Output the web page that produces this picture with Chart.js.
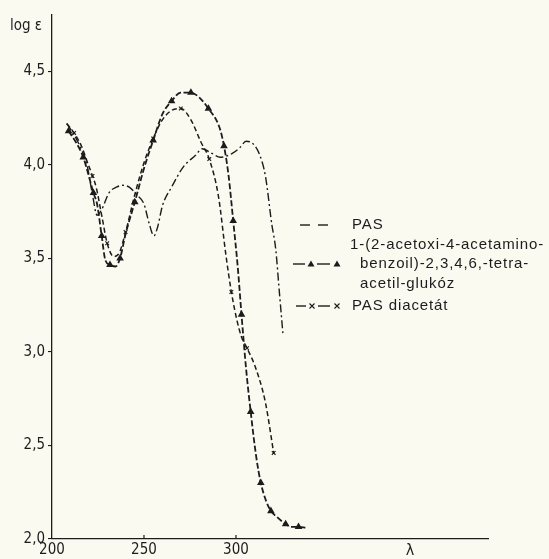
<!DOCTYPE html>
<html><head><meta charset="utf-8">
<script src="https://cdn.jsdelivr.net/npm/chart.js@4"></script>
<style>html,body{margin:0;padding:0;background:#fbfaf1;}</style>
</head><body>
<canvas id="c" width="549" height="559"></canvas>
<script>
// ---- data ----
const yTickValues = [2.0, 2.5, 3.0, 3.5, 4.0, 4.5];
const yTickLabels = ['2,0', '2,5', '3,0', '3,5', '4,0', '4,5'];
const xTickValues = [200, 250, 300];
const xTickLabels = ['200', '250', '300'];
const yTitle = 'log ε';
const xTitle = 'λ';

// PAS (dashed)
const pasWl  = [208,212,216,219,222,224.5,227,231,235,238.5,242,246,250,252.7,255.4,257.5,260,265,271.5,278,281.5,287,291.5,298,302,305.5,309.5,313,316,319.5,321.6,323.5,325.5];
const pasLog = [4.22,4.16,4.08,4.00,3.84,3.73,3.76,3.85,3.88,3.89,3.88,3.84,3.79,3.69,3.62,3.67,3.78,3.88,3.99,4.05,4.085,4.06,4.04,4.06,4.09,4.125,4.11,4.05,3.94,3.68,3.55,3.33,3.10];

// 1-(2-acetoxi-4-acetamino-benzoil)-2,3,4,6,-tetra-acetil-glukóz (triangles)
const gluWl  = [209,213,217,220,222.5,224.5,227,229,231.5,234.5,237,240,245,250,255,260,265,270,275.5,280,285,291,293.5,296,298.5,301,303,305.5,308,311,313.5,316.5,319,322,327,330,334,338];
const gluLog = [4.18,4.12,4.04,3.94,3.85,3.79,3.62,3.49,3.465,3.456,3.50,3.63,3.80,3.98,4.13,4.27,4.34,4.385,4.385,4.36,4.30,4.20,4.10,3.94,3.70,3.45,3.20,2.91,2.68,2.44,2.30,2.20,2.15,2.12,2.08,2.065,2.065,2.06];

// PAS diacetát (crosses)
const diaWl  = [208,212,216,219,222,224,227,230,233.5,236,240,245,250,255,260,265,270,275.5,281,285.5,290.5,294.5,297.5,300.5,303,306,310.5,316,320.5];
const diaLog = [4.22,4.17,4.10,4.02,3.94,3.88,3.73,3.58,3.51,3.52,3.64,3.84,4.01,4.14,4.24,4.29,4.30,4.24,4.12,4.03,3.83,3.52,3.32,3.17,3.08,3.02,2.92,2.73,2.46];

const legendLines = ['PAS', '1-(2-acetoxi-4-acetamino-', 'benzoil)-2,3,4,6,-tetra-', 'acetil-glukóz', 'PAS diacetát'];

// ---- styling ----
const INK = '#1c1c1c';
const BG = '#fbfaf1';
const FONT = "'Liberation Sans Narrow','DejaVu Sans Condensed','Liberation Sans',sans-serif";
const LFONT = "'Liberation Sans','Arial',sans-serif";

const toPts = (xs, ys) => xs.map((x, i) => ({x: x, y: ys[i]}));

const decor = {
  id: 'decor',
  beforeDraw(chart) {
    const c = chart.ctx;
    c.save();
    c.fillStyle = BG;
    c.fillRect(0, 0, chart.width, chart.height);
    c.restore();
  },
  afterDraw(chart) {
    const c = chart.ctx;
    const xs = chart.scales.x, ys = chart.scales.y;
    c.save();
    c.strokeStyle = INK; c.fillStyle = INK; c.lineWidth = 1.2;
    // inward x ticks
    xTickValues.slice(1).forEach(v => {
      const px = xs.getPixelForValue(v);
      c.beginPath(); c.moveTo(px, ys.bottom); c.lineTo(px, ys.bottom - 4); c.stroke();
    });
    // axis titles
    c.font = '15px ' + FONT;
    c.textBaseline = 'middle'; c.textAlign = 'left';
    c.fillText(yTitle, 10, 26);
    c.font = '16px ' + FONT;
    c.textAlign = 'center';
    c.fillText(xTitle, 410, 551);

    // legend
    c.font = '15px ' + LFONT;
    c.textAlign = 'left';
    c.letterSpacing = '0.9px';
    const rows = [225, 245, 264, 284, 306];
    const tx = [352, 350, 360, 360, 352];
    legendLines.forEach((t, i) => c.fillText(t, tx[i], rows[i]));
    c.letterSpacing = '0px';
    c.lineWidth = 1.4;
    const seg = (a, b, y) => { c.beginPath(); c.moveTo(a, y); c.lineTo(b, y); c.stroke(); };
    // PAS
    seg(300, 310, rows[0]); seg(318, 328, rows[0]);
    // triangles
    seg(293, 305, rows[2]); seg(317, 330, rows[2]);
    [311, 337].forEach(x => {
      c.beginPath(); c.moveTo(x, rows[2] - 3.5); c.lineTo(x + 3.5, rows[2] + 2.5); c.lineTo(x - 3.5, rows[2] + 2.5); c.closePath(); c.fill();
    });
    // crosses
    seg(296, 306, rows[4]); seg(318, 330, rows[4]);
    c.lineWidth = 1.1;
    [312, 337].forEach(x => {
      const y = rows[4];
      c.beginPath(); c.moveTo(x - 2.5, y - 2.5); c.lineTo(x + 2.5, y + 2.5);
      c.moveTo(x + 2.5, y - 2.5); c.lineTo(x - 2.5, y + 2.5); c.stroke();
    });
    c.restore();
  }
};

new Chart(document.getElementById('c'), {
  type: 'line',
  data: {
    datasets: [
      { label: 'PAS', data: toPts(pasWl, pasLog), borderColor: INK, borderWidth: 1.4,
        borderDash: [8, 3, 2, 3], pointRadius: 0, cubicInterpolationMode: 'monotone', fill: false },
      { label: legendLines.slice(1, 4).join(' '), data: toPts(gluWl, gluLog), borderColor: INK, borderWidth: 1.8,
        borderDash: [6, 2.5], pointStyle: 'triangle', pointBackgroundColor: INK, pointBorderColor: INK,
        pointRadius: ctx => (ctx.dataIndex % 2 === 0 ? 2.6 : 0), cubicInterpolationMode: 'monotone', fill: false },
      { label: 'PAS diacetát', data: toPts(diaWl, diaLog), borderColor: INK, borderWidth: 1.5,
        borderDash: [5, 3], pointStyle: 'crossRot', pointBorderColor: INK, pointBorderWidth: 1.1,
        pointRadius: ctx => (ctx.dataIndex % 3 === 1 ? 2.6 : 0), cubicInterpolationMode: 'monotone', fill: false }
    ]
  },
  options: {
    responsive: false,
    animation: false,
    layout: { padding: { left: 0, top: 15, right: 61, bottom: 0 } },
    plugins: { legend: { display: false }, tooltip: { enabled: false } },
    scales: {
      x: {
        type: 'linear', min: 200, max: 437,
        afterBuildTicks: s => { s.ticks = xTickValues.map(v => ({value: v})); },
        afterFit: s => { s.height = 20; },
        ticks: { callback: (v, i) => xTickLabels[i], autoSkip: false, maxRotation: 0,
                 color: INK, padding: 2, font: { size: 15, family: FONT } },
        grid: { display: true, drawOnChartArea: false, drawTicks: false },
        border: { display: true, color: INK, width: 1.3 }
      },
      y: {
        min: 2.0, max: 4.8,
        afterBuildTicks: s => { s.ticks = yTickValues.map(v => ({value: v})); },
        afterFit: s => { s.width = 52; },
        ticks: { callback: (v, i) => yTickLabels[i], autoSkip: false,
                 color: INK, padding: 3, font: { size: 15, family: FONT } },
        grid: { display: true, drawOnChartArea: false, tickLength: 4, color: INK, lineWidth: 1.1 },
        border: { display: true, color: INK, width: 1.3 }
      }
    }
  },
  plugins: [decor]
});
</script>
</body></html>
